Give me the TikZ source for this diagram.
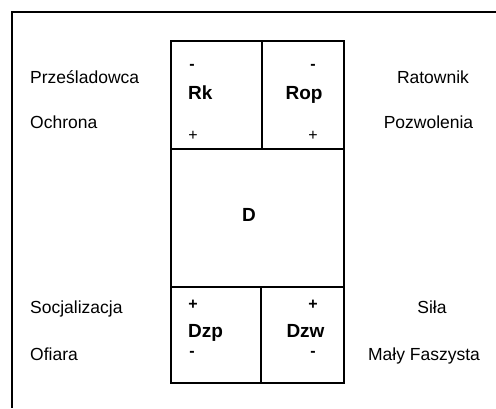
\documentclass[tikz,border=0pt]{standalone}
\usepackage{fontspec}
\setmainfont{Liberation Sans}
\begin{document}
\begin{tikzpicture}[x=1pt,y=-1pt,
  lbl/.style={font=\fontsize{17.5}{20}\selectfont, inner sep=0pt, anchor=base west},
  lblc/.style={font=\fontsize{17.5}{20}\selectfont, inner sep=0pt, anchor=base},
  cell/.style={font=\fontsize{19}{22}\selectfont\bfseries, inner sep=0pt, anchor=base},
  sgn/.style={font=\fontsize{16}{18}\selectfont, inner sep=0pt, anchor=center},
  sgnb/.style={font=\fontsize{16}{18}\selectfont\bfseries, inner sep=0pt, anchor=center},
  gridline/.style={line width=2pt, line cap=rect},
  frameline/.style={line width=2pt}]
\useasboundingbox (0,0) rectangle (496,408);
% frame
\coordinate (fr1) at (496,11.5);
\coordinate (fr2) at (11.5,11.5);
\coordinate (fr3) at (11.5,408);
\draw[frameline] (fr1) -- (fr2) -- (fr3);
% grid
\coordinate (tl) at (171,41);
\coordinate (br) at (344,383);
\draw[gridline] (tl) rectangle (br);
\coordinate (h1a) at (171,149);
\coordinate (h1b) at (344,149);
\coordinate (h2a) at (171,287);
\coordinate (h2b) at (344,287);
\draw[gridline] (h1a) -- (h1b);
\draw[gridline] (h2a) -- (h2b);
\coordinate (v1a) at (262,41);
\coordinate (v1b) at (262,149);
\coordinate (v2a) at (261,287);
\coordinate (v2b) at (261,383);
\draw[gridline] (v1a) -- (v1b);
\draw[gridline] (v2a) -- (v2b);
% side labels
\node[lbl] (przes) at (30,83.3) {Prześladowca};
\node[lbl] (ochr) at (30,128.3) {Ochrona};
\node[lbl] (socj) at (30,313.3) {Socjalizacja};
\node[lbl] (ofia) at (30,360.3) {Ofiara};
\node[lblc] (rat) at (433,83.3) {Ratownik};
\node[lblc] (pozw) at (428.5,128.3) {Pozwolenia};
\node[lblc] (sila) at (432,313.3) {Siła};
\node[lblc] (faszy) at (424,360.3) {Mały Faszysta};
% cell labels
\node[cell, anchor=base west] (rk) at (188,99.8) {Rk};
\node[cell] (rop) at (304,99.8) {Rop};
\node[cell] (d) at (249,221) {D};
\node[cell, anchor=base west] (dzp) at (188,337) {Dzp};
\node[cell] (dzw) at (305.5,337) {Dzw};
% signs
\node[sgnb] (rkm) at (192,67) {-};
\node[sgn] (rkp) at (193,136) {+};
\node[sgnb] (ropm) at (313,67) {-};
\node[sgn] (ropp) at (313,136) {+};
\node[sgnb] (dzpp) at (193,305) {+};
\node[sgnb] (dzpm) at (192,354) {-};
\node[sgnb] (dzwp) at (313,305) {+};
\node[sgnb] (dzwm) at (313,354) {-};
\end{tikzpicture}
\end{document}
